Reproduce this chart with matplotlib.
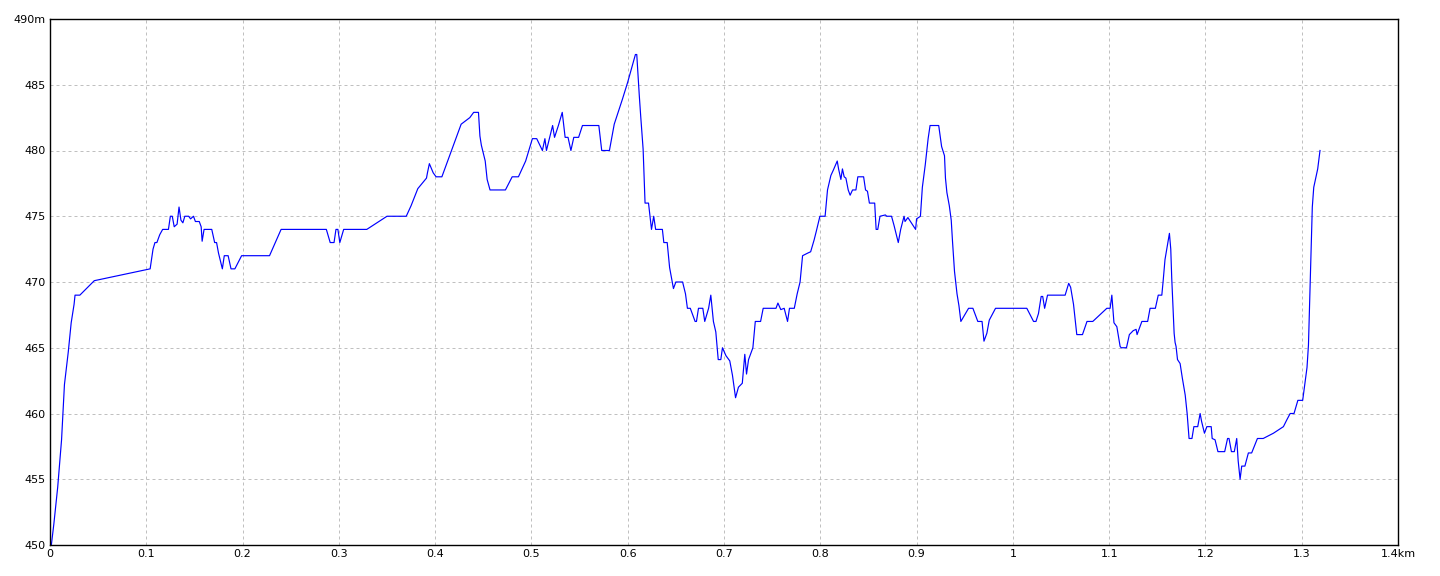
import matplotlib
matplotlib.use('Agg')
import matplotlib.pyplot as plt

# distance along the route (km) and elevation (m)
dist_km = [
    0.0014, 0.004, 0.008, 0.012, 0.015, 0.019, 0.022, 0.025, 0.026, 0.031,
    0.046, 0.104, 0.107, 0.109, 0.111, 0.114, 0.117, 0.123, 0.125, 0.127,
    0.129, 0.132, 0.134, 0.136, 0.138, 0.140, 0.144, 0.146, 0.149, 0.151,
    0.155, 0.157, 0.158, 0.160, 0.168, 0.171, 0.173, 0.175, 0.176, 0.179,
    0.181, 0.185, 0.188, 0.192, 0.199, 0.228, 0.240, 0.287, 0.291, 0.295,
    0.297, 0.299, 0.301, 0.305, 0.329, 0.350, 0.370, 0.375, 0.382, 0.391,
    0.392, 0.394, 0.398, 0.401, 0.407, 0.412, 0.419, 0.427, 0.436, 0.440,
    0.445, 0.4465, 0.448, 0.452, 0.454, 0.457, 0.473, 0.480, 0.4865, 0.494,
    0.501, 0.5055, 0.5114, 0.514, 0.5156, 0.522, 0.524, 0.528, 0.532, 0.535,
    0.538, 0.541, 0.544, 0.549, 0.553, 0.570, 0.573, 0.581, 0.586, 0.5945,
    0.600, 0.608, 0.6094, 0.612, 0.6135, 0.616, 0.618, 0.6216, 0.6247, 0.627,
    0.629, 0.636, 0.6375, 0.641, 0.6435, 0.6475, 0.650, 0.657, 0.660, 0.662,
    0.665, 0.670, 0.6714, 0.6735, 0.678, 0.680, 0.684, 0.6863, 0.689, 0.6915,
    0.694, 0.6967, 0.6984, 0.702, 0.706, 0.7088, 0.712, 0.715, 0.719, 0.7216,
    0.7234, 0.7255, 0.730, 0.7325, 0.738, 0.7407, 0.754, 0.756, 0.759, 0.7625,
    0.766, 0.768, 0.773, 0.776, 0.779, 0.7816, 0.787, 0.790, 0.7936, 0.796,
    0.7996, 0.805, 0.8075, 0.811, 0.8135, 0.8176, 0.819, 0.8214, 0.823, 0.8248,
    0.8266, 0.829, 0.831, 0.8335, 0.837, 0.839, 0.845, 0.847, 0.849, 0.851,
    0.8565, 0.858, 0.8597, 0.862, 0.8676, 0.869, 0.874, 0.8766, 0.881, 0.8835,
    0.887, 0.888, 0.891, 0.899, 0.900, 0.904, 0.906, 0.909, 0.912, 0.914,
    0.923, 0.9245, 0.926, 0.929, 0.930, 0.9315, 0.934, 0.936, 0.9374, 0.9394,
    0.942, 0.944, 0.946, 0.950, 0.954, 0.9585, 0.961, 0.9636, 0.968, 0.970,
    0.973, 0.9755, 0.982, 1.0145, 1.018, 1.0215, 1.024, 1.0266, 1.0294, 1.031,
    1.033, 1.036, 1.0543, 1.058, 1.060, 1.063, 1.0664, 1.0723, 1.077, 1.083,
    1.0976, 1.101, 1.1028, 1.105, 1.108, 1.1114, 1.1125, 1.118, 1.121, 1.125,
    1.128, 1.129, 1.134, 1.140, 1.1425, 1.148, 1.151, 1.1547, 1.156, 1.158,
    1.161, 1.1626, 1.164, 1.165, 1.1664, 1.1675, 1.1685, 1.1695, 1.171, 1.1737,
    1.176, 1.179, 1.181, 1.183, 1.186, 1.188, 1.192, 1.1945, 1.196, 1.199,
    1.2015, 1.206, 1.207, 1.210, 1.213, 1.216, 1.220, 1.223, 1.2245, 1.227,
    1.230, 1.2325, 1.234, 1.236, 1.2377, 1.241, 1.2446, 1.248, 1.254, 1.260,
    1.2706, 1.281, 1.2844, 1.288, 1.292, 1.296, 1.301, 1.3035, 1.3055, 1.307,
    1.309, 1.310, 1.311, 1.3125, 1.3145, 1.3166, 1.319,
]
elev_m = [
    450.0, 451.6, 454.4, 458.0, 462.2, 464.7, 466.9, 468.3, 469.0, 469.0,
    470.1, 471.0, 472.5, 473.0, 473.0, 473.6, 474.0, 474.0, 475.0, 475.0,
    474.2, 474.4, 475.7, 474.7, 474.5, 475.0, 475.0, 474.8, 475.0, 474.6,
    474.6, 474.2, 473.1, 474.0, 474.0, 473.0, 473.0, 472.2, 471.9, 471.0,
    472.0, 472.0, 471.0, 471.0, 472.0, 472.0, 474.0, 474.0, 473.0, 473.0,
    474.0, 474.0, 473.0, 474.0, 474.0, 475.0, 475.0, 475.8, 477.1, 477.9,
    478.3, 479.0, 478.3, 478.0, 478.0, 479.0, 480.4, 482.0, 482.5, 482.9,
    482.9, 481.1, 480.4, 479.2, 477.8, 477.0, 477.0, 478.0, 478.0, 479.2,
    480.9, 480.9, 480.0, 480.9, 480.0, 481.9, 481.0, 481.9, 482.9, 481.0,
    481.0, 480.0, 481.0, 481.0, 481.9, 481.9, 480.0, 480.0, 482.0, 483.9,
    485.2, 487.3, 487.3, 484.2, 482.6, 480.1, 476.0, 476.0, 474.0, 475.0,
    474.0, 474.0, 473.0, 473.0, 471.1, 469.5, 470.0, 470.0, 469.1, 468.0,
    468.0, 467.0, 467.0, 468.0, 468.0, 467.0, 468.0, 469.0, 467.0, 466.2,
    464.1, 464.1, 465.0, 464.4, 464.0, 462.9, 461.2, 462.0, 462.3, 464.5,
    463.0, 464.1, 465.0, 467.0, 467.0, 468.0, 468.0, 468.4, 467.9, 468.0,
    467.0, 468.0, 468.0, 469.1, 470.0, 472.0, 472.2, 472.3, 473.2, 473.9,
    475.0, 475.0, 477.0, 478.1, 478.5, 479.2, 478.6, 477.8, 478.6, 478.0,
    477.9, 477.0, 476.6, 477.0, 477.0, 478.0, 478.0, 477.0, 476.9, 476.0,
    476.0, 474.0, 474.0, 475.0, 475.1, 475.0, 475.0, 474.3, 473.0, 474.0,
    475.0, 474.6, 474.9, 474.0, 474.8, 475.0, 477.2, 478.9, 480.9, 481.9,
    481.9, 481.1, 480.3, 479.6, 477.9, 476.8, 475.8, 474.7, 473.0, 470.8,
    469.1, 468.2, 467.0, 467.5, 468.0, 468.0, 467.5, 467.0, 467.0, 465.5,
    466.1, 467.1, 468.0, 468.0, 467.5, 467.0, 467.0, 467.6, 468.9, 468.9,
    468.0, 469.0, 469.0, 469.9, 469.6, 468.3, 466.0, 466.0, 467.0, 467.0,
    468.0, 468.0, 469.0, 466.9, 466.6, 465.1, 465.0, 465.0, 466.0, 466.3,
    466.4, 466.0, 467.0, 467.0, 468.0, 468.0, 469.0, 469.0, 470.0, 471.7,
    473.0, 473.7, 472.5, 470.3, 468.0, 466.1, 465.4, 465.1, 464.1, 463.8,
    462.7, 461.4, 460.0, 458.1, 458.1, 459.0, 459.0, 460.0, 459.4, 458.5,
    459.0, 459.0, 458.1, 458.0, 457.1, 457.1, 457.1, 458.1, 458.1, 457.1,
    457.1, 458.1, 456.4, 455.0, 456.0, 456.0, 457.0, 457.0, 458.1, 458.1,
    458.5, 459.0, 459.5, 460.0, 460.0, 461.0, 461.0, 462.4, 463.5, 465.2,
    470.5, 473.3, 475.7, 477.2, 477.9, 478.6, 480.0,
]

x_ticks = [0, 0.1, 0.2, 0.3, 0.4, 0.5, 0.6, 0.7, 0.8, 0.9, 1.0, 1.1, 1.2, 1.3, 1.4]
x_labels = ['0', '0.1', '0.2', '0.3', '0.4', '0.5', '0.6', '0.7', '0.8', '0.9',
            '1', '1.1', '1.2', '1.3', '1.4km']
y_ticks = [450, 455, 460, 465, 470, 475, 480, 485, 490]
y_labels = ['450', '455', '460', '465', '470', '475', '480', '485', '490m']

fig = plt.figure(figsize=(14.4, 5.76), dpi=100)
ax = fig.add_axes([50 / 1440, 31 / 576, 1348 / 1440, 526 / 576])

ax.plot(dist_km, elev_m, color='#0000ff', linewidth=0.85)

ax.set_xlim(0, 1.4)
ax.set_ylim(450, 490)
ax.set_xticks(x_ticks)
ax.set_xticklabels(x_labels)
ax.set_yticks(y_ticks)
ax.set_yticklabels(y_labels)
ax.tick_params(length=0, labelsize=8, pad=3)
# light dashed grid, 3px on / 3px off
ax.grid(True, color='#c0c0c0', linestyle=(0, (3, 3)), linewidth=0.72)
for s in ax.spines.values():
    s.set_color('black')
    s.set_linewidth(1.0)

fig.savefig('out.png', dpi=100, facecolor='white')
